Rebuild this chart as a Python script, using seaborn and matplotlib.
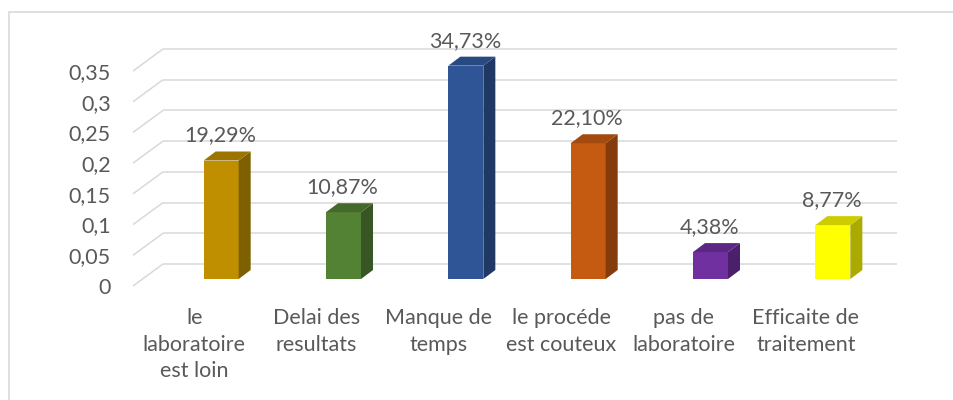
import matplotlib
matplotlib.use("Agg")
import matplotlib.pyplot as plt
import matplotlib.transforms as mtransforms
from matplotlib.patches import Polygon, Rectangle
import pandas as pd
import seaborn as sns

# ---- data -------------------------------------------------------------
categories = [
    "le\nlaboratoire\nest loin",
    "Delai des\nresultats",
    "Manque de\ntemps",
    "le procéde\nest couteux",
    "pas de\nlaboratoire",
    "Efficaite de\ntraitement",
]
values = [0.1929, 0.1087, 0.3473, 0.2210, 0.0438, 0.0877]
y_ticks = [0, 0.05, 0.1, 0.15, 0.2, 0.25, 0.3, 0.35]
y_tick_labels = ["0", "0,05", "0,1", "0,15", "0,2", "0,25", "0,3", "0,35"]

front_colors = ["#BF8F00", "#548235", "#2F5597", "#C55A11", "#7030A0", "#FFFF00"]
side_colors = ["#7F6000", "#375623", "#1F3864", "#843C0C", "#4B206B", "#AAAA00"]
top_colors = ["#9C7500", "#446A2B", "#284A80", "#A34A0E", "#5C2784", "#CCCC00"]

# ---- figure setup -----------------------------------------------------
DPI = 100
W, H = 954, 400
TEXT = "#595959"
GRID = "#D9D9D9"
FS = 15.5

sns.set_theme(style="white")
plt.rcParams["font.family"] = ["Lato", "DejaVu Sans"]

fig = plt.figure(figsize=(W / DPI, H / DPI), dpi=DPI)
fig.patch.set_facecolor("white")

# axes span the front edge of the chart floor and walls
left_px, right_px, top_px, bottom_px = 133, 867, 71, 286
ax = fig.add_axes([left_px / W, 1 - bottom_px / H,
                   (right_px - left_px) / W, (bottom_px - top_px) / H])

df = pd.DataFrame({"cause": categories, "share": values})
sns.barplot(data=df, x="cause", y="share", hue="cause", palette=front_colors,
            saturation=1, width=35 / 122.3, legend=False, ax=ax, zorder=3)

ax.set_xlim(-0.5, len(categories) - 0.5)
ax.set_ylim(0, 0.35)
for s in ax.spines.values():
    s.set_visible(False)
ax.set_xlabel("")
ax.set_ylabel("")
ax.set_facecolor("none")

# pixel -> data conversion
ppu_x = ax.bbox.width / (len(categories))
ppu_y = ax.bbox.height / 0.35

# back wall and side wall gridlines (perspective)
wall_dx, wall_dy = 30 / ppu_x, 22 / ppu_y
x_lo, x_hi = -0.5, len(categories) - 0.5
for v in y_ticks:
    ax.plot([x_lo, x_lo + wall_dx], [v, v + wall_dy], color=GRID, lw=1.1,
            clip_on=False, zorder=0, solid_capstyle="butt")
    ax.plot([x_lo + wall_dx, x_hi + wall_dx], [v + wall_dy, v + wall_dy],
            color=GRID, lw=1.1, clip_on=False, zorder=0, solid_capstyle="butt")

# bars stand inside the floor depth: shift them back
bar_shift = mtransforms.ScaledTranslation(27 / DPI, 7 / DPI, fig.dpi_scale_trans)
bar_tr = ax.transData + bar_shift
depth_dx, depth_dy = 12 / ppu_x, 9 / ppu_y

bars = list(ax.patches)
for p, side, top, v in zip(bars, side_colors, top_colors, values):
    p.set_transform(bar_tr)
    p.set_clip_on(False)
    p.set_edgecolor("none")
    x0 = p.get_x()
    x1 = x0 + p.get_width()
    h = p.get_height()
    ax.add_patch(Polygon([(x1, 0), (x1 + depth_dx, depth_dy),
                          (x1 + depth_dx, h + depth_dy), (x1, h)],
                         closed=True, facecolor=side, edgecolor="none",
                         transform=bar_tr, clip_on=False, zorder=3))
    ax.add_patch(Polygon([(x0, h), (x0 + depth_dx, h + depth_dy),
                          (x1 + depth_dx, h + depth_dy), (x1, h)],
                         closed=True, facecolor=top, edgecolor="none",
                         transform=bar_tr, clip_on=False, zorder=3))
    label = f"{v * 100:.2f}%".replace(".", ",")
    lab_tr = ax.transData + mtransforms.ScaledTranslation(
        26 / DPI, 32 / DPI, fig.dpi_scale_trans)
    ax.text(x0 + p.get_width() / 2, h, label, transform=lab_tr,
            ha="center", va="center", fontsize=FS, color=TEXT, clip_on=False)

# ticks
ax.set_yticks(y_ticks, y_tick_labels)
ax.tick_params(axis="y", length=0, pad=16, labelsize=FS, labelcolor=TEXT)
ax.set_xticks(range(len(categories)), categories)
ax.tick_params(axis="x", length=0, pad=16, labelsize=FS, labelcolor=TEXT)
for t in ax.get_xticklabels():
    t.set_linespacing(1.4)

# chart border
fig.add_artist(Rectangle((9 / W, -0.1), 1.0, 1 - 12 / H + 0.1,
                         transform=fig.transFigure, fill=False,
                         edgecolor=GRID, lw=1.2))

fig.savefig("out.png", dpi=DPI)
